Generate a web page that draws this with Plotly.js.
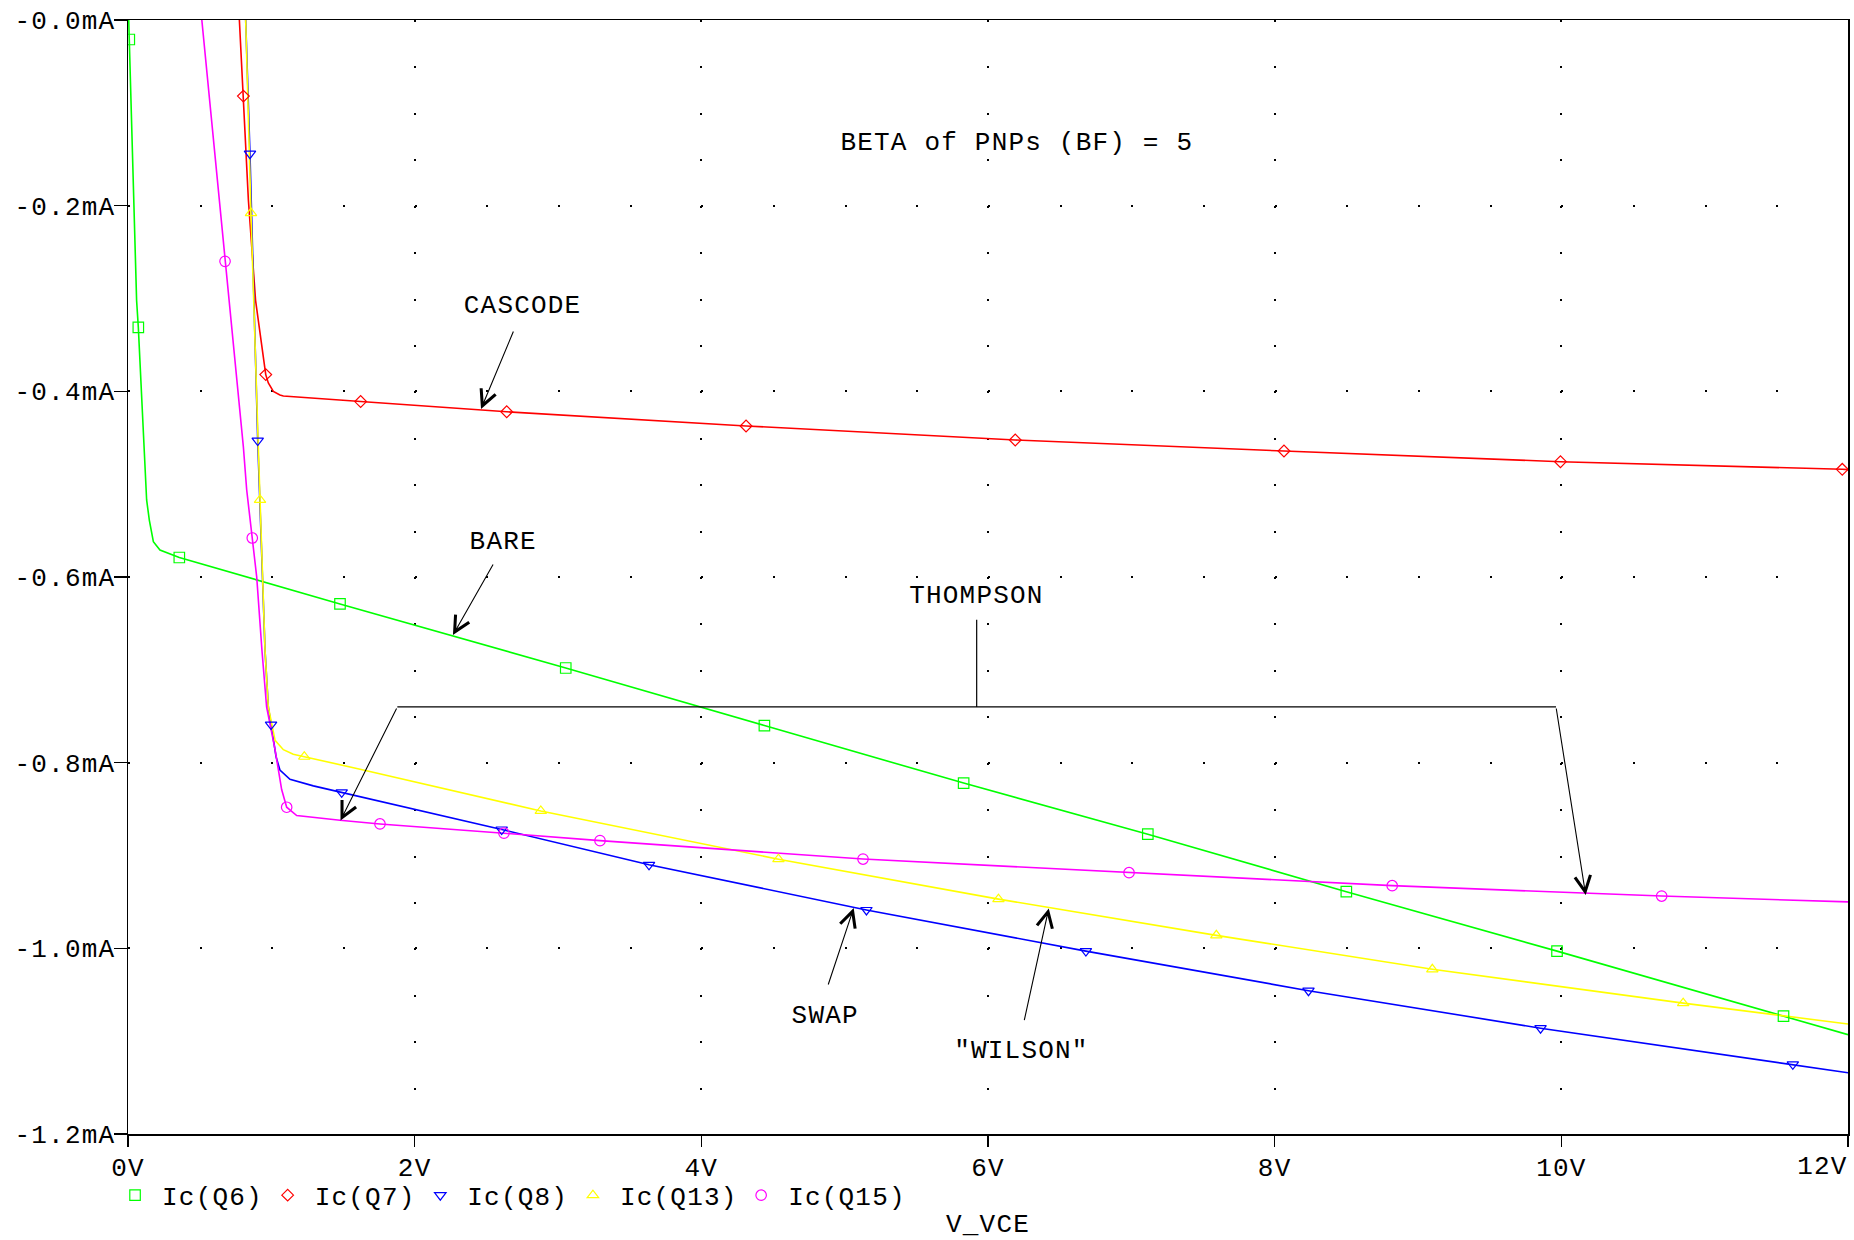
<!DOCTYPE html>
<html>
<head>
<meta charset="utf-8">
<script src="https://cdn.plot.ly/plotly-3.0.1.min.js"></script>
<style>
  html, body { margin: 0; padding: 0; background: #fff; }
  #chart { width: 1854px; height: 1240px; }
  #chart svg text { letter-spacing: 1.2px; }
</style>
</head>
<body>
<div id="chart"></div>
<script>
// ---- data (V_VCE in volts, Ic in mA) ----
const seriesNames = ['Ic(Q6)', 'Ic(Q7)', 'Ic(Q8)', 'Ic(Q13)', 'Ic(Q15)'];

// Ic(Q6) - BARE
const vQ6 = [0.005, 0.009, 0.019, 0.037, 0.06, 0.072, 0.095, 0.119, 0.13, 0.149, 0.177, 0.223, 0.293, 0.358, 1.479, 3.054, 4.44, 5.83, 7.115, 8.5, 9.97, 11.55, 12];
const iQ6 = [0, -0.021, -0.086, -0.194, -0.302, -0.331, -0.409, -0.481, -0.517, -0.539, -0.562, -0.571, -0.575, -0.579, -0.629, -0.698, -0.760, -0.822, -0.877, -0.939, -1.003, -1.073, -1.093];
const mvQ6 = [0.009, 0.072, 0.358, 1.479, 3.054, 4.44, 5.83, 7.115, 8.5, 9.97, 11.55];
const miQ6 = [-0.021, -0.331, -0.579, -0.629, -0.698, -0.760, -0.822, -0.877, -0.939, -1.003, -1.073];

// Ic(Q7) - CASCODE
const vQ7 = [0.777, 0.805, 0.84, 0.89, 0.935, 0.961, 0.979, 1.014, 1.06, 1.084, 1.623, 2.037, 2.642, 4.312, 6.19, 8.065, 9.994, 11.96, 12];
const iQ7 = [0, -0.082, -0.194, -0.302, -0.355, -0.382, -0.391, -0.400, -0.404, -0.405, -0.411, -0.4155, -0.422, -0.4373, -0.4524, -0.4643, -0.4758, -0.484, -0.4843];
const mvQ7 = [0.805, 0.961, 1.623, 2.642, 4.312, 6.19, 8.065, 9.994, 11.96];
const miQ7 = [-0.082, -0.382, -0.411, -0.422, -0.4373, -0.4524, -0.4643, -0.4758, -0.484];

// Ic(Q8) - SWAP
const vQ8 = [0.821, 0.851, 0.905, 0.933, 0.956, 0.979, 0.998, 1.033, 1.06, 1.13, 1.293, 1.491, 1.619, 2.607, 3.635, 5.152, 6.683, 8.236, 9.855, 11.615, 12];
const iQ8 = [0, -0.144, -0.453, -0.571, -0.679, -0.74, -0.759, -0.7936, -0.808, -0.818, -0.825, -0.832, -0.8366, -0.872, -0.910, -0.9587, -1.003, -1.0456, -1.086, -1.125, -1.134];
const mvQ8 = [0.851, 0.905, 0.998, 1.491, 2.607, 3.635, 5.152, 6.683, 8.236, 9.855, 11.615];
const miQ8 = [-0.144, -0.453, -0.759, -0.832, -0.872, -0.910, -0.9587, -1.003, -1.0456, -1.086, -1.125];

// Ic(Q13) - "WILSON"
const vQ13 = [0.821, 0.858, 0.909, 0.921, 0.933, 0.956, 0.979, 1.026, 1.084, 1.153, 1.23, 1.619, 2.88, 4.538, 6.073, 7.593, 9.10, 10.85, 12];
const iQ13 = [0, -0.208, -0.46, -0.517, -0.571, -0.679, -0.74, -0.776, -0.786, -0.791, -0.7936, -0.807, -0.852, -0.904, -0.947, -0.986, -1.0226, -1.059, -1.0815];
const mvQ13 = [0.858, 0.921, 1.23, 2.88, 4.538, 6.073, 7.593, 9.10, 10.85];
const miQ13 = [-0.208, -0.517, -0.7936, -0.852, -0.904, -0.947, -0.986, -1.0226, -1.059];

// Ic(Q15) - THOMPSON
const vQ15 = [0.515, 0.677, 0.705, 0.77, 0.805, 0.828, 0.867, 0.898, 0.935, 0.967, 1.026, 1.072, 1.107, 1.177, 1.479, 1.758, 2.623, 3.293, 5.128, 6.984, 8.82, 10.70, 12];
const iQ15 = [0, -0.26, -0.302, -0.409, -0.46, -0.506, -0.558, -0.60, -0.68, -0.74, -0.786, -0.829, -0.848, -0.857, -0.862, -0.866, -0.876, -0.884, -0.9038, -0.9185, -0.9325, -0.9437, -0.950];
const mvQ15 = [0.677, 0.867, 1.107, 1.758, 2.623, 3.293, 5.128, 6.984, 8.82, 10.70];
const miQ15 = [-0.26, -0.558, -0.848, -0.866, -0.876, -0.884, -0.9038, -0.9185, -0.9325, -0.9437];

// ticks
const xTickVals = [0, 2, 4, 6, 8, 10, 12];
const xTickText = ['0V', '2V', '4V', '6V', '8V', '10V', '12V'];
const yTickVals = [0, -0.2, -0.4, -0.6, -0.8, -1.0, -1.2];
const yTickText = ['-0.0mA', '-0.2mA', '-0.4mA', '-0.6mA', '-0.8mA', '-1.0mA', '-1.2mA'];

// ---- styling ----
const FONT = 'Liberation Mono, Courier New, monospace';
const FS = 26;
const colors = ['#00ff00', '#ff0000', '#0000ff', '#ffff00', '#ff00ff'];
const symbols = ['square-open', 'diamond-open', 'triangle-down-open', 'triangle-up-open', 'circle-open'];
const msizes = [10.5, 9, 10, 10, 10.5];

const lineX = [vQ6, vQ7, vQ8, vQ13, vQ15];
const lineY = [iQ6, iQ7, iQ8, iQ13, iQ15];
const markX = [mvQ6, mvQ7, mvQ8, mvQ13, mvQ15];
const markY = [miQ6, miQ7, miQ8, miQ13, miQ15];

const traces = [];
for (let k = 0; k < seriesNames.length; k++) {
  traces.push({
    x: lineX[k], y: lineY[k], type: 'scatter', mode: 'lines',
    line: {color: colors[k], width: 1.6}, showlegend: false, hoverinfo: 'skip'
  });
}
for (let k = 0; k < seriesNames.length; k++) {
  traces.push({
    x: markX[k], y: markY[k], type: 'scatter', mode: 'markers', name: seriesNames[k],
    marker: {symbol: symbols[k], size: msizes[k], color: colors[k], line: {width: 1.2, color: colors[k]}},
    showlegend: true
  });
}

const txt = (s, x, y) => ({
  text: s, x: x, y: y, xref: 'x', yref: 'y', showarrow: false,
  xanchor: 'center', yanchor: 'middle', font: {family: FONT, size: FS, color: '#000'}
});
const arrow = (x0, y0, x1, y1) => ({
  text: '', x: x1, y: y1, ax: x0, ay: y0, xref: 'x', yref: 'y', axref: 'x', ayref: 'y',
  showarrow: true, arrowhead: 5, arrowsize: 2.8, arrowwidth: 1.1, arrowcolor: '#000', standoff: 0, startstandoff: 0
});

// last x tick label is right-aligned at the plot edge (as in the reference)
const lastIdx = xTickVals.length - 1;
const xTickTextShown = xTickText.map((t, i) => (i === lastIdx ? '' : t));

const annotations = [
  txt('BETA of PNPs (BF) = 5', 6.20, -0.1325),
  txt('CASCODE', 2.753, -0.308),
  arrow(2.693, -0.334, 2.463, -0.419),
  txt('BARE', 2.613, -0.5618),
  arrow(2.553, -0.585, 2.267, -0.6625),
  txt('THOMPSON', 5.921, -0.6205),
  arrow(1.879, -0.740, 1.4826, -0.8624),
  arrow(9.963, -0.740, 10.17, -0.9426),
  txt('SWAP', 4.865, -1.0726),
  arrow(4.882, -1.0406, 5.063, -0.9566),
  txt('"WILSON"', 6.234, -1.1106),
  arrow(6.251, -1.079, 6.424, -0.957),
  {
    text: xTickText[lastIdx], x: xTickVals[lastIdx], xref: 'x', xanchor: 'right',
    y: 0, yref: 'paper', yanchor: 'middle', yshift: -33, showarrow: false,
    font: {family: FONT, size: FS, color: '#000'}
  }
];

const shapes = [
  {type: 'line', xref: 'x', yref: 'y', x0: 5.921, x1: 5.921, y0: -0.646, y1: -0.740, line: {color: '#000', width: 1.2}},
  {type: 'line', xref: 'x', yref: 'y', x0: 1.879, x1: 9.963, y0: -0.740, y1: -0.740, line: {color: '#000', width: 1.2}}
];

const axisCommon = {
  showline: true, linecolor: '#000', linewidth: 1.5, mirror: true,
  ticks: 'outside', tickcolor: '#000', tickwidth: 1.5,
  zeroline: false, showgrid: true, gridcolor: '#000', gridwidth: 2,
  tickfont: {family: FONT, size: FS, color: '#000'}
};

const layout = {
  width: 1854, height: 1240,
  margin: {l: 128, r: 6, t: 20, b: 106, pad: 0},
  paper_bgcolor: '#fff', plot_bgcolor: '#fff',
  font: {family: FONT, size: FS, color: '#000'},
  xaxis: Object.assign({}, axisCommon, {
    range: [0, 12], tickvals: xTickVals, ticktext: xTickTextShown, ticklen: 11,
    ticklabelstandoff: -2,
    griddash: '2px,44.417px',
    title: {text: 'V_VCE', font: {family: FONT, size: FS, color: '#000'}, standoff: 56}
  }),
  yaxis: Object.assign({}, axisCommon, {
    range: [-1.2, 0], tickvals: yTickVals, ticktext: yTickText, ticklen: 13,
    ticklabelstandoff: -7,
    griddash: '2px,69.667px'
  }),
  showlegend: true,
  legend: {
    orientation: 'h', x: -0.0116, xanchor: 'left', y: -0.055, yanchor: 'middle',
    itemwidth: 44,
    font: {family: FONT, size: FS, color: '#000'}, bgcolor: 'rgba(0,0,0,0)', borderwidth: 0,
    itemclick: false, itemdoubleclick: false
  },
  annotations: annotations,
  shapes: shapes,
  hovermode: false
};

Plotly.newPlot('chart', traces, layout, {displayModeBar: false, staticPlot: true});
</script>
</body>
</html>
